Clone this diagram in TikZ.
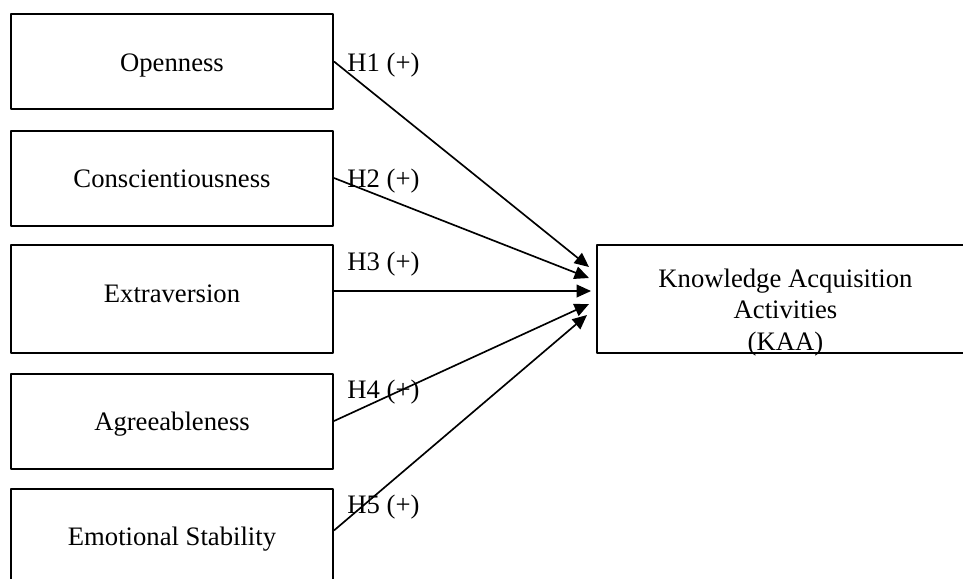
\documentclass[tikz,border=0pt]{standalone}
\usepackage{fontspec}
\setmainfont{Liberation Serif}
\usetikzlibrary{arrows.meta}
\begin{document}
\begin{tikzpicture}[x=0.45pt, y=-0.45pt, font=\fontsize{12}{14.2}\selectfont, line join=round,
		>={Triangle[length=6.5pt,width=5.8pt]},
		trait/.style={draw, line width=0.9pt, minimum width=144.9pt, minimum height=42.75pt, text height=8.6pt, text depth=0pt},
		hyp/.style={->, line width=0.75pt}]
	\useasboundingbox (0,0) rectangle (963,578);
	\clip (0,0) rectangle (963,578);
	\path
	(589,267) coordinate (t1)
	(589,278) coordinate (t2)
	(591,291) coordinate (t3)
	(589,304) coordinate (t4)
	(587,315) coordinate (t5)
	;
	\node[trait] (open) at (172,61.5) {Openness};
	\node[trait] (cons) at (172,178) {Conscientiousness};
	\node[trait, minimum height=48.6pt, text depth=5.9pt] (extra) at (172,299) {Extraversion};
	\node[trait] (agree) at (172,421) {Agreeableness};
	\node[trait] (emo) at (172,536) {Emotional Stability};
	\node[draw, line width=0.9pt, minimum width=169.65pt, minimum height=48.6pt] (kaa) at (785.5,299) {};
	\node[align=center, inner sep=0] (kaatext) at (785.5,312.3) {Knowledge Acquisition\\Activities\\(KAA)};
	\foreach \n/\y in {1/71,2/187,3/270,4/398,5/513}
		{\node[anchor=base west, inner sep=0] (h\n) at (347,\y) {H\n\ (+)};}
	\draw[hyp] (open.east) -- (t1);
	\draw[hyp] (cons.east) -- (t2);
	\draw[hyp, line width=0.5pt] (extra.east |- t3) -- (t3);
	\draw[hyp] (agree.east) -- (t4);
	\draw[hyp] ([yshift=2.5pt]emo.east) -- (t5);
\end{tikzpicture}
\end{document}
